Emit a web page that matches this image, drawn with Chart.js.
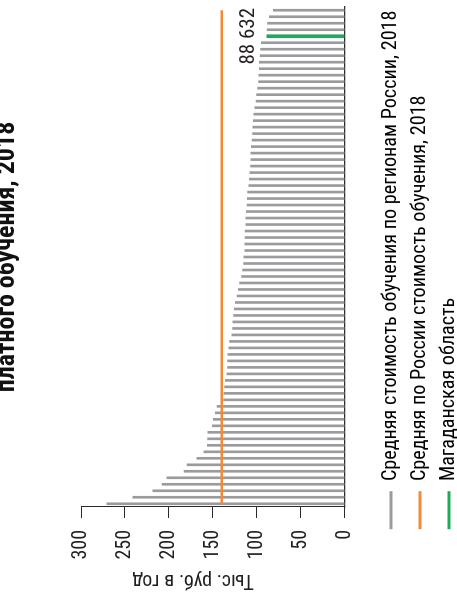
<!DOCTYPE html>
<html lang="ru">
<head>
<meta charset="utf-8">
<title>Стоимость платного обучения</title>
<script src="https://cdn.jsdelivr.net/npm/chart.js@4.4.1/dist/chart.umd.min.js"></script>
<style>
  html, body { margin: 0; padding: 0; background: #fff; overflow: hidden; }
  #frame { position: relative; width: 457px; height: 597px; overflow: hidden; }
  /* the chart is drawn upright and then turned a quarter to the left */
  #turn { position: absolute; left: -12px; top: 597px; width: 597px; height: 481px;
          transform-origin: 0 0; transform: rotate(-90deg); }
</style>
</head>
<body>
<div id="frame"><div id="turn"><canvas id="costChart" width="597" height="481"></canvas></div></div>
<script>
// ── Data (тыс. руб. в год) ──
const titleText = "платного обучения, 2018";
const axisTitle = "Тыс. руб. в год";

// regions, sorted from the most expensive to the cheapest
const regionCosts = [
  270.6, 241.0, 218.3, 207.7, 202.3, 182.6, 179.2, 168.2, 160.2, 156.4,
  156.0, 155.6, 150.5, 149.4, 147.3, 145.2, 137.8, 137.4, 136.6, 135.9,
  134.0, 133.2, 133.2, 132.9, 131.7, 130.9, 128.3, 127.5, 127.2, 126.4,
  125.7, 124.5, 122.3, 121.0, 119.5, 117.3, 116.1, 115.0, 114.7, 113.5,
  113.5, 113.2, 113.2, 112.4, 112.4, 112.0, 111.2, 110.9, 110.4, 109.0,
  108.6, 107.8, 107.0, 106.7, 106.7, 106.3, 105.5, 104.8, 104.4, 104.0,
  103.3, 102.2, 100.8, 100.2, 99.1, 97.9, 97.6, 97.2, 97.2, 96.4,
  95.6, 94.9, 88.632, 88.3, 87.7, 85.8, 81.3
];
const magadanIndex = 72;
const russiaAverage = 140;
const valueTicks = [0, 50, 100, 150, 200, 250, 300];

const seriesNames = [
  "Средняя стоимость обучения по регионам России, 2018",
  "Средняя по России стоимость обучения, 2018",
  "Магаданская область"
];
const seriesColors = ["#9b9b9d", "#f28a3a", "#1fa95b"];

// ── Derived ──
const regionLabels = regionCosts.map((_, i) => String(i + 1));
const otherRegions = regionCosts.map((v, i) => (i === magadanIndex ? null : v));
const magadanOnly = regionCosts.map((v, i) => (i === magadanIndex ? v : null));
const averageLine = regionCosts.map(() => russiaAverage);
const magadanLabel = String(Math.round(regionCosts[magadanIndex] * 1000))
  .replace(/\B(?=(\d{3})+(?!\d))/g, " ");

const NARROW = "'Roboto Condensed', 'Liberation Sans Narrow', sans-serif";
const INK = "#231f20";
const AXIS = "#2b2b2b";

Chart.defaults.font.family = NARROW;
Chart.defaults.color = INK;

// ── Small texts: value label and the axis caption ──
const notes = {
  id: "notes",
  afterLayout(chart) {
    // legend rows start a little right of the canvas edge
    chart.legend.left = 59;
  },
  afterDatasetsDraw(chart) {
    const { ctx, scales: { x, y } } = chart;
    ctx.save();
    ctx.fillStyle = INK;
    ctx.textAlign = "center";
    ctx.textBaseline = "alphabetic";
    ctx.font = "21px " + NARROW;
    ctx.fillText(magadanLabel,
      x.getPixelForValue(magadanIndex),
      y.getPixelForValue(regionCosts[magadanIndex]) - 13);

    ctx.font = "20px " + NARROW;
    ctx.translate(22, 205);
    ctx.rotate(-Math.PI / 2);
    ctx.fillText(axisTitle, 0, 0);
    ctx.restore();
  }
};

new Chart(document.getElementById("costChart"), {
  type: "bar",
  data: {
    labels: regionLabels,
    datasets: [
      {
        label: seriesNames[0],
        data: otherRegions,
        backgroundColor: seriesColors[0],
        barThickness: 2,
        grouped: false,
        order: 1
      },
      {
        type: "line",
        label: seriesNames[1],
        data: averageLine,
        borderColor: seriesColors[1],
        backgroundColor: seriesColors[1],
        borderWidth: 2.5,
        pointRadius: 0,
        fill: false,
        order: 0
      },
      {
        label: seriesNames[2],
        data: magadanOnly,
        backgroundColor: seriesColors[2],
        barThickness: 3,
        grouped: false,
        order: 1
      }
    ]
  },
  options: {
    responsive: false,
    animation: false,
    events: [],
    layout: { padding: { left: 0, right: 7, top: 0, bottom: 0 } },
    plugins: {
      tooltip: { enabled: false },
      title: {
        display: true,
        text: titleText,
        fullSize: false,
        align: "center",
        color: "#111",
        font: { size: 26, weight: "bold" },
        padding: { top: 3.9, bottom: 57.9 }
      },
      legend: {
        position: "bottom",
        align: "start",
        labels: {
          boxWidth: 38,
          boxHeight: 3,
          padding: 8.8,
          color: INK,
          font: { size: 20.2 },
          sort: (a, b) => a.datasetIndex - b.datasetIndex,
          generateLabels: (chart) => chart.data.datasets.map((ds, i) => ({
            text: ds.label,
            fillStyle: seriesColors[i],
            strokeStyle: seriesColors[i],
            lineWidth: 0,
            hidden: false,
            datasetIndex: i
          }))
        }
      }
    },
    scales: {
      x: {
        grid: { display: false },
        ticks: { display: false },
        border: { display: true, color: AXIS, width: 1.3 },
        afterFit: (s) => { s.height = 27.3; }
      },
      y: {
        min: 0,
        max: 300,
        afterBuildTicks: (s) => { s.ticks = valueTicks.map(v => ({ value: v })); },
        ticks: { padding: 12, color: INK, font: { size: 20 } },
        grid: { display: true, drawOnChartArea: false, drawTicks: true, tickLength: 11, color: AXIS },
        border: { display: true, color: AXIS, width: 1 },
        afterFit: (s) => { s.width = 90; }
      }
    }
  },
  plugins: [notes]
});
</script>
</body>
</html>
